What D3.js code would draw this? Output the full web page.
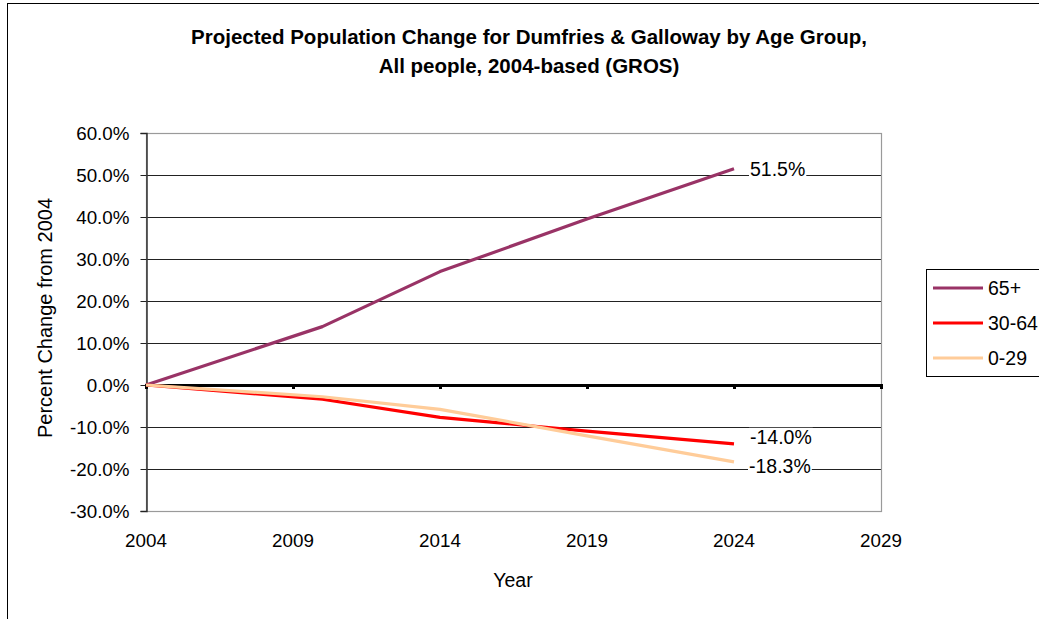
<!DOCTYPE html>
<html><head><meta charset="utf-8">
<script src="https://cdn.jsdelivr.net/npm/d3@7"></script>
<style>body{margin:0;background:#fff}svg{display:block;font-family:"Liberation Sans",Arial,sans-serif}</style>
</head><body><svg id="c" width="1039" height="619"></svg>
<script>
const years = [2004, 2010, 2014, 2019, 2024];
const seriesNames = ["65+", "30-64", "0-29"];
const v65 = [0, 13.9, 27.0, 39.5, 51.5];
const v30 = [0, -3.4, -7.7, -11.0, -14.0];
const v0 = [0, -2.8, -5.8, -12.1, -18.3];
const seriesColors = ["#993366", "#FF0000", "#FFCC99"];
const xTicks = [2004, 2009, 2014, 2019, 2024, 2029];
const yTicks = [-30, -20, -10, 0, 10, 20, 30, 40, 50, 60];
const endLabels = ["51.5%", "-14.0%", "-18.3%"];
const titleLines = ["Projected Population Change for Dumfries & Galloway by Age Group,", "All people, 2004-based (GROS)"];

const svg = d3.select("#c");
svg.append("rect").attr("x", 7.5).attr("y", 3.5).attr("width", 1040).attr("height", 630)
  .attr("fill", "#fff").attr("stroke", "#000").attr("stroke-width", 1);

const L = 146, R = 881, T = 133, B = 511;
const x = d3.scaleLinear().domain([2004, 2029]).range([L, R]);
const y = d3.scaleLinear().domain([-30, 60]).range([B, T]);

// gridlines
svg.append("g").selectAll("line").data(yTicks.filter(t => t !== 0 && t !== -30 && t !== 60)).join("line")
  .attr("x1", L).attr("x2", R).attr("y1", d => Math.round(y(d)) + 0.5).attr("y2", d => Math.round(y(d)) + 0.5)
  .attr("stroke", "#222").attr("stroke-width", 1);
// plot border
svg.append("rect").attr("x", L + 0.5).attr("y", T + 0.5).attr("width", R - L).attr("height", B - T)
  .attr("fill", "none").attr("stroke", "#9a9a9a").attr("stroke-width", 1.2);

// y axis
const yAxis = d3.axisLeft(y).tickValues(yTicks).tickSize(6).tickPadding(11).tickFormat(d => d.toFixed(1) + "%");
const gy = svg.append("g").attr("transform", `translate(${L + 0.5},0)`).call(yAxis);
gy.select(".domain").attr("stroke", "#333").attr("stroke-width", 1.5);
gy.selectAll(".tick line").attr("stroke", "#222");
gy.selectAll(".tick text").attr("font-size", 18.8).attr("fill", "#000").attr("font-family", "Liberation Sans, Arial, sans-serif");

// x axis at zero
const xAxis = d3.axisBottom(x).tickValues(xTicks).tickSize(4).tickFormat("");
const gx = svg.append("g").attr("transform", `translate(0,${y(0)})`).call(xAxis);
gx.select(".domain").attr("stroke", "#000").attr("stroke-width", 3);
gx.selectAll(".tick line").attr("stroke", "#000").attr("stroke-width", 3);
// x tick labels at bottom
svg.append("g").selectAll("text").data(xTicks).join("text")
  .attr("x", d => x(d)).attr("y", 547).attr("text-anchor", "middle").attr("font-size", 18.8).text(d => d);

// lines
const allVals = [v65, v30, v0];
const line = d3.line().x((d, i) => x(years[i])).y(d => y(d));
allVals.forEach((vals, k) => {
  svg.append("path").datum(vals).attr("d", line).attr("fill", "none")
    .attr("stroke", seriesColors[k]).attr("stroke-width", 3.2).attr("stroke-linejoin", "round");
});

// end labels with white background
const lblX = [750, 750, 749];
const lblDy = [7, 0, 11.5];
allVals.forEach((vals, k) => {
  const last = vals[vals.length - 1];
  const g = svg.append("g");
  const t = g.append("text").attr("x", lblX[k]).attr("y", y(last) + lblDy[k]).attr("font-size", 19.5).text(endLabels[k]);
  const bb = t.node().getBBox();
  g.insert("rect", "text").attr("x", bb.x - 1).attr("y", bb.y + 2).attr("width", bb.width + 2).attr("height", bb.height - 3).attr("fill", "#fff");
});

// titles
svg.append("g").selectAll("text").data(titleLines).join("text")
  .attr("x", 529).attr("y", (d, i) => 44 + i * 29).attr("text-anchor", "middle")
  .attr("font-size", 20.5).attr("font-weight", "bold").text(d => d);
svg.append("text").attr("transform", "translate(52,318) rotate(-90)").attr("text-anchor", "middle")
  .attr("font-size", 20).text("Percent Change from 2004");
svg.append("text").attr("x", 513).attr("y", 587).attr("text-anchor", "middle").attr("font-size", 19.5).text("Year");

// legend
svg.append("rect").attr("x", 926.5).attr("y", 269.5).attr("width", 130).attr("height", 107)
  .attr("fill", "#fff").attr("stroke", "#000").attr("stroke-width", 1);
const lg = svg.append("g").selectAll("g").data(seriesNames).join("g")
  .attr("transform", (d, i) => `translate(0,${288 + i * 35})`);
lg.append("line").attr("x1", 933).attr("x2", 983).attr("y1", 0).attr("y2", 0)
  .attr("stroke", (d, i) => seriesColors[i]).attr("stroke-width", 3.2);
lg.append("text").attr("x", 988).attr("y", 7).attr("font-size", 19.5).text(d => d);
</script></body></html>
